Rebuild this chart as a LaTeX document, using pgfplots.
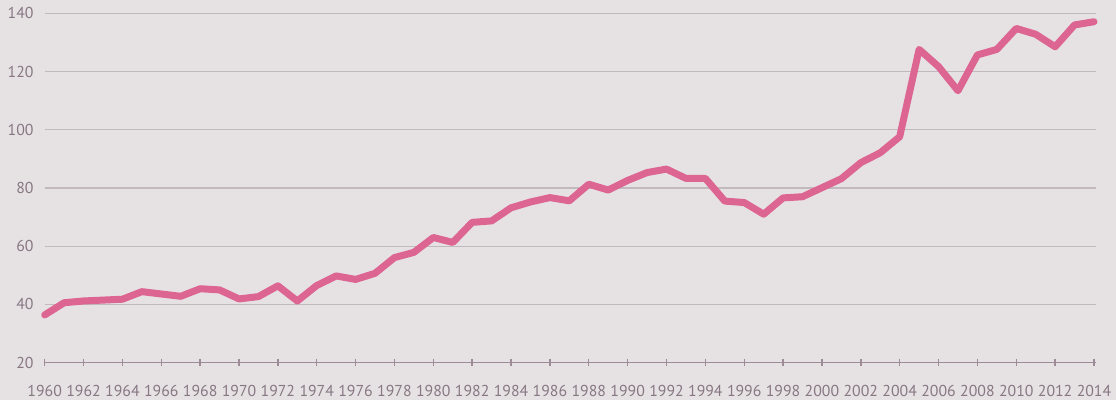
\documentclass[border=0pt]{standalone}
\usepackage{pgfplots}
\pgfplotsset{compat=1.18}
\usepackage{fontspec}
\setmainfont{PT Sans}

\definecolor{bgc}{HTML}{E6E2E3}
\definecolor{gridc}{HTML}{C1B9BD}
\definecolor{axisc}{HTML}{9D8B97}
\definecolor{labc}{HTML}{877783}
\definecolor{linec}{HTML}{DD6591}

\begin{document}
\begin{tikzpicture}
	\fill[bgc] (-44.7bp,-37.3bp) rectangle (1071.3bp,362.7bp);
	\begin{axis}[
		scale only axis, width=1051.2bp, height=349.4bp,
		xmin=1960, xmax=2014.1, ymin=20, ymax=140,
		axis lines*=left,
		y axis line style={draw=none},
		x axis line style={draw=axisc, line width=1.5bp},
		xtick={1960,1962,...,2014}, ytick={20,40,...,140},
		tick align=center, major tick length=7bp,
		xtick style={draw=axisc, line width=1.4bp},
		ytick style={draw=none},
		ymajorgrids, grid style={draw=gridc, line width=1.2bp},
		/pgf/number format/assume math mode=true,
		/pgf/number format/set thousands separator={},
		tick label style={font=\fontsize{15.8bp}{17bp}\selectfont, text=labc, inner sep=0pt},
		xticklabel style={anchor=north, yshift=-18.5bp},
		yticklabel style={anchor=east, xshift=-7.5bp},
		clip=false
		]
		\addplot[linec, line width=7bp, line join=round, line cap=round] coordinates {
			(1960,36.4) (1961,40.6) (1962,41.2) (1963,41.5) (1964,41.8) (1965,44.4)
			(1966,43.6) (1967,42.8) (1968,45.4) (1969,45.0) (1970,41.9) (1971,42.7)
			(1972,46.4) (1973,41.2) (1974,46.5) (1975,49.8) (1976,48.6) (1977,50.7)
			(1978,56.1) (1979,57.9) (1980,63.0) (1981,61.3) (1982,68.2) (1983,68.7)
			(1984,73.2) (1985,75.2) (1986,76.7) (1987,75.6) (1988,81.3) (1989,79.3)
			(1990,82.6) (1991,85.3) (1992,86.5) (1993,83.3) (1994,83.3) (1995,75.5)
			(1996,75.0) (1997,71.0) (1998,76.6) (1999,77.0) (2000,80.1) (2001,83.2)
			(2002,88.7) (2003,92.1) (2004,97.6) (2005,127.6) (2006,121.7) (2007,113.4)
			(2008,125.7) (2009,127.6) (2010,134.8) (2011,132.8) (2012,128.5) (2013,136.0)
			(2014,137.1)};
	\end{axis}
	\pgfresetboundingbox
	\path[use as bounding box] (-44.7bp,-37.3bp) rectangle (1071.3bp,362.7bp);
\end{tikzpicture}
\end{document}
